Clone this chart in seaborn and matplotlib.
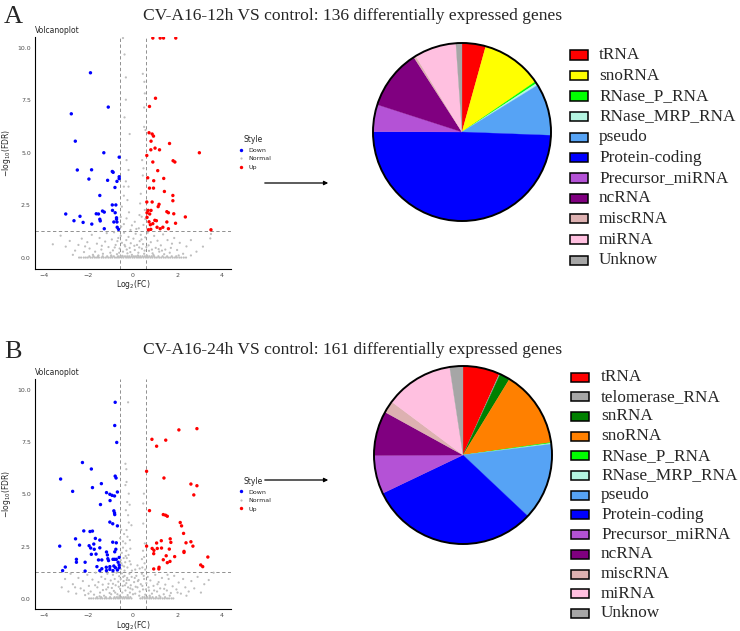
import numpy as np
import pandas as pd
import matplotlib
matplotlib.use("Agg")
import matplotlib.pyplot as plt
import seaborn as sns
from matplotlib.patches import Rectangle, Circle

# ---------------- volcano A (12h) ----------------
down_a = [(-1.91, 8.80), (-2.77, 6.85), (-1.11, 7.17), (-2.59, 5.55), (-1.31, 5.00), (-0.62, 4.79),
          (-2.50, 4.18), (-1.86, 4.19), (-1.98, 3.75), (-0.93, 4.11), (-0.89, 4.07), (-1.14, 3.69),
          (-0.72, 3.64), (-0.62, 3.86), (-0.62, 3.77), (-0.81, 3.35), (-1.49, 2.97), (-0.93, 2.52),
          (-0.77, 2.52), (-3.02, 2.09), (-2.65, 1.77), (-2.38, 1.98), (-2.24, 1.69), (-1.85, 1.61),
          (-1.65, 2.10), (-1.55, 2.09), (-1.37, 2.23), (-1.29, 2.18), (-1.49, 1.84), (-1.47, 1.76),
          (-0.92, 2.26), (-0.80, 2.15), (-0.74, 1.91), (-0.74, 1.84), (-0.86, 1.71), (-0.72, 1.71),
          (-1.29, 1.39), (-0.71, 1.46), (-0.65, 1.36)]
up_a = [(0.89, 10.45), (1.22, 10.45), (1.37, 10.45), (1.92, 10.45), (1.01, 7.59), (0.74, 7.20),
        (0.72, 5.95), (0.86, 5.89), (0.92, 5.79), (0.81, 5.55), (1.64, 5.44), (2.98, 5.00),
        (0.99, 5.22), (0.80, 5.14), (1.19, 5.14), (0.62, 4.87), (1.80, 4.62), (1.88, 4.56),
        (0.89, 4.56), (1.11, 4.15), (0.66, 3.81), (1.38, 3.78), (0.93, 3.67), (0.74, 3.32),
        (0.92, 3.32), (1.41, 3.16), (1.79, 2.97), (1.79, 2.72), (0.62, 2.66), (0.86, 2.66),
        (1.17, 2.55), (1.13, 2.44), (1.52, 2.20), (1.59, 2.15), (1.83, 2.10), (0.68, 2.26),
        (0.81, 2.26), (0.63, 2.15), (0.75, 2.09), (0.63, 1.93), (2.35, 1.95), (0.98, 1.79),
        (1.05, 1.77), (0.72, 1.72), (1.52, 1.71), (0.89, 1.63), (1.91, 1.65), (0.78, 1.58),
        (1.08, 1.46), (1.34, 1.46), (1.22, 1.39), (0.80, 1.36), (1.59, 1.39), (3.50, 1.34),
        (0.69, 1.34)]
normal_a = [(-0.38, 9.67), (-0.32, 8.58), (0.44, 8.75), (-0.32, 7.52), (0.53, 7.82), (-0.38, 6.68),
            (0.50, 7.15), (-0.15, 5.89), (0.56, 6.08), (-0.29, 4.65), (0.41, 4.65), (-0.20, 4.18),
            (0.44, 3.92), (-0.32, 3.64), (-0.20, 3.39), (0.32, 2.59), (-0.41, 2.96), (-0.50, 2.44),
            (-0.18, 2.17), (0.29, 2.04), (0.39, 1.96), (0.08, 1.72), (-0.41, 1.61), (0.47, 1.57),
            (-0.53, 1.49), (-0.11, 1.33), (0.26, 1.41), (-0.29, 1.88), (0.53, 2.28), (-0.41, 3.39),
            (0.47, 4.26), (0.50, 6.23), (0.51, 8.37), (-0.45, 10.45), (3.50, 1.14), (3.47, 0.93),
            (-0.25, 2.75), (0.35, 3.05), (-0.55, 1.95), (0.55, 1.85), (-0.05, 1.55), (0.15, 1.38),
            (-3.25, 1.06), (-3.02, 0.54), (-2.84, 0.81), (-2.60, 0.35), (-2.45, 0.62), (-2.30, 0.92),
            (-2.20, 0.28), (-2.05, 0.75), (-1.95, 0.45), (-1.85, 1.10), (-1.70, 0.30), (-1.62, 0.68),
            (-1.50, 0.95), (-1.42, 0.40), (-1.35, 0.20), (-1.25, 0.78), (-1.18, 1.18), (-1.10, 0.52),
            (-1.02, 0.25), (-0.95, 0.88), (-0.90, 0.36), (-0.85, 1.22), (-0.78, 0.62), (-0.72, 0.18),
            (-0.66, 0.95), (-0.60, 0.45), (-0.55, 1.05), (-0.50, 0.72), (-0.45, 0.30), (-0.40, 1.20),
            (-0.35, 0.55), (-0.30, 0.85), (-0.25, 0.22), (-0.20, 1.00), (-0.15, 0.48), (-0.10, 0.70),
            (-0.05, 0.15), (0.02, 0.92), (0.08, 0.38), (0.12, 1.15), (0.18, 0.62), (0.24, 0.25),
            (0.30, 0.80), (0.35, 1.10), (0.40, 0.44), (0.45, 0.66), (0.50, 0.20), (0.55, 0.98),
            (0.60, 0.52), (0.66, 1.20), (0.72, 0.34), (0.80, 0.75), (0.88, 0.22), (0.95, 1.05),
            (1.02, 0.48), (1.10, 0.82), (1.18, 0.30), (1.25, 0.60), (1.35, 1.12), (1.45, 0.40),
            (1.55, 0.85), (1.65, 0.25), (1.75, 0.68), (1.85, 0.95), (1.98, 0.38), (2.10, 0.72),
            (2.25, 0.20), (2.40, 0.55), (2.60, 0.85), (2.85, 0.30), (3.14, 0.54), (-1.80, 0.15),
            (-1.40, 0.58), (-0.98, 0.12), (-0.70, 0.80), (-0.48, 0.10), (-0.28, 0.40), (-0.12, 0.28),
            (0.06, 0.58), (0.22, 0.12), (0.38, 0.88), (0.52, 0.35), (0.70, 0.60), (0.92, 0.14),
            (1.15, 0.42), (1.40, 0.18), (1.70, 0.48), (2.05, 0.12), (-2.70, 0.15), (-2.15, 0.55),
            (-1.55, 0.12), (-0.82, 0.50), (-0.62, 0.25), (-0.38, 0.62), (0.28, 0.50), (0.62, 0.12),
            (0.85, 0.40), (1.30, 0.35), (2.60, 0.12), (-3.60, 0.65)]
# dense band of genes at FDR ~ 1
base_a_low = [-2.42, -2.33, -2.21, -2.12, -2.03, -1.91, -1.82, -1.71, -1.62, -1.53, -1.41, -1.32,
              -1.22, -1.11, -1.02, -0.93, -0.81, -0.72, -0.63, -0.52, -0.43, -0.31, -0.22, -0.13,
              -0.02, 0.07, 0.18, 0.27, 0.36, 0.47, 0.58, 0.67, 0.78, 0.87, 0.98, 1.07, 1.18, 1.27,
              1.38, 1.47, 1.58, 1.67, 1.78, 1.88, 1.97, 2.08, 2.17, 2.28, 2.38]
base_a_high = [-1.96, -1.77, -1.57, -1.36, -1.16, -0.97, -0.86, -0.67, -0.57, -0.47, -0.36, -0.26,
               -0.17, -0.06, 0.04, 0.13, 0.24, 0.33, 0.43, 0.53, 0.63, 0.73, 0.84, 0.95, 1.14,
               1.33, 1.53, 1.74, 1.94]

# ---------------- volcano B (24h) ----------------
down_b = [(-0.80, 9.40), (-0.82, 8.29), (-0.73, 7.48), (-2.27, 6.52), (-1.87, 6.21), (-0.80, 5.87),
          (-0.76, 5.78), (-3.25, 5.73), (-1.82, 5.32), (-1.42, 5.51), (-2.71, 5.14), (-1.19, 5.08),
          (-1.04, 5.00), (-0.94, 4.95), (-0.83, 4.92), (-0.70, 5.11), (-1.03, 4.70), (-1.46, 4.51),
          (-0.86, 4.21), (-0.83, 4.11), (-0.82, 4.03), (-1.04, 3.67), (-0.91, 3.59), (-0.70, 3.49),
          (-1.82, 3.24), (-2.21, 3.25), (-1.93, 3.22), (-2.58, 2.87), (-1.69, 2.89), (-1.49, 2.81),
          (-0.91, 2.71), (-0.75, 2.68), (-2.40, 2.57), (-1.97, 2.54), (-1.76, 2.62), (-3.29, 2.52),
          (-1.90, 2.43), (-1.74, 2.37), (-1.49, 2.44), (-0.77, 2.37), (-0.82, 2.25), (-1.19, 2.24),
          (-1.87, 2.13), (-1.66, 2.14), (-2.54, 1.89), (-2.54, 1.75), (-2.15, 1.75), (-1.55, 1.86),
          (-1.40, 1.86), (-1.15, 2.10), (-1.13, 1.92), (-1.10, 1.83), (-0.90, 1.89), (-0.83, 1.89),
          (-0.75, 1.89), (-0.62, 1.98), (-1.62, 1.54), (-1.40, 1.44), (-1.20, 1.51), (-1.04, 1.54),
          (-0.86, 1.57), (-0.79, 1.49), (-0.62, 1.62), (-0.62, 1.49), (-3.04, 1.52), (-3.16, 1.35),
          (-2.15, 1.33), (-1.49, 1.35), (-1.19, 1.35), (-1.04, 1.41), (-0.70, 1.38), (-0.90, 1.35),
          (-0.67, 1.75)]
up_b = [(2.06, 8.08), (2.87, 8.14), (0.85, 7.63), (1.47, 7.59), (1.06, 7.30), (0.61, 6.10),
        (1.39, 5.78), (2.60, 5.49), (2.87, 5.41), (2.73, 4.97), (0.74, 4.22), (1.36, 4.03),
        (1.46, 4.00), (1.54, 3.95), (2.12, 3.65), (2.18, 3.49), (2.27, 3.13), (1.67, 2.87),
        (2.60, 2.73), (2.38, 2.68), (1.27, 2.78), (1.70, 2.70), (1.06, 2.67), (0.61, 2.52),
        (2.69, 2.52), (0.86, 2.41), (0.94, 2.32), (1.09, 2.41), (1.28, 2.43), (1.63, 2.38),
        (2.29, 2.27), (2.29, 2.22), (0.93, 2.16), (1.49, 2.06), (1.36, 1.87), (1.54, 1.73),
        (1.66, 1.79), (1.87, 2.02), (3.36, 2.00), (3.04, 1.62), (3.13, 1.54), (0.93, 1.43),
        (1.16, 1.43), (1.17, 1.51)]
normal_b = [(-0.22, 9.40), (-0.34, 6.46), (-0.30, 6.20), (-0.29, 5.59), (-0.34, 5.44), (-0.19, 5.03),
            (-0.26, 4.63), (-0.15, 4.50), (-0.32, 4.24), (-0.22, 4.00), (-0.19, 3.65), (-0.07, 3.52),
            (-0.29, 3.29), (-0.40, 3.10), (-0.25, 2.97), (-0.14, 2.81), (-0.34, 2.65), (0.46, 4.56),
            (0.49, 5.03), (0.46, 3.60), (0.53, 2.65), (0.45, 2.30), (0.40, 1.90), (0.52, 1.70),
            (0.30, 1.45), (0.55, 1.40), (0.50, 2.00), (0.20, 1.60), (-0.45, 2.45), (-0.30, 2.30),
            (-0.50, 2.20), (-0.20, 2.10), (-0.42, 1.95), (-0.55, 1.85), (-0.35, 1.75), (-0.10, 1.65),
            (-0.48, 1.60), (-0.25, 1.50), (-0.55, 1.42), (-0.38, 1.35), (-0.05, 1.35), (-0.58, 2.90),
            (-0.53, 3.30), (-0.45, 2.75), (-0.12, 2.40), (-0.28, 1.95), (-0.40, 1.55), (-0.15, 1.80),
            (-0.52, 1.70), (-0.33, 2.05), (0.10, 1.40), (0.42, 1.50),
            (-3.20, 0.55), (-3.05, 0.95), (-2.90, 0.35), (-2.80, 1.20), (-2.70, 0.70), (-2.55, 0.25),
            (-2.45, 1.00), (-2.35, 0.50), (-2.25, 0.85), (-2.15, 0.18), (-2.05, 1.15), (-1.98, 0.62),
            (-1.90, 0.35), (-1.82, 0.92), (-1.75, 0.20), (-1.68, 1.25), (-1.60, 0.55), (-1.55, 0.80),
            (-1.48, 0.30), (-1.42, 1.05), (-1.36, 0.68), (-1.30, 0.15), (-1.25, 0.95), (-1.20, 0.45),
            (-1.15, 1.20), (-1.10, 0.72), (-1.05, 0.28), (-1.00, 0.88), (-0.95, 0.52), (-0.90, 1.15),
            (-0.86, 0.38), (-0.82, 0.95), (-0.78, 0.65), (-0.74, 1.25), (-0.70, 0.22), (-0.66, 0.82),
            (-0.62, 1.08), (-0.58, 0.48), (-0.55, 0.95), (-0.50, 1.22), (-0.46, 0.62), (-0.42, 0.85),
            (-0.38, 1.10), (-0.34, 0.40), (-0.30, 0.75), (-0.26, 1.00), (-0.22, 0.55), (-0.18, 0.90),
            (-0.14, 0.30), (-0.10, 0.65), (-0.06, 1.05), (-0.02, 0.45), (0.05, 0.80), (0.10, 0.25),
            (0.15, 1.10), (0.20, 0.55), (0.25, 0.90), (0.30, 0.35), (0.35, 0.70), (0.40, 1.20),
            (0.45, 0.45), (0.50, 0.95), (0.55, 0.20), (0.60, 0.75), (0.66, 1.05), (0.72, 0.40),
            (0.78, 0.88), (0.85, 0.25), (0.92, 0.62), (1.00, 1.15), (1.08, 0.35), (1.15, 0.80),
            (1.22, 0.50), (1.30, 1.00), (1.38, 0.22), (1.45, 0.68), (1.52, 0.40), (1.60, 0.95),
            (1.70, 0.28), (1.78, 0.60), (1.85, 1.10), (1.95, 0.45), (2.05, 0.78), (2.15, 0.25),
            (2.25, 0.95), (2.35, 0.55), (2.50, 0.35), (2.62, 0.85), (2.75, 0.50), (2.90, 1.05),
            (3.05, 0.30), (3.20, 0.70), (3.40, 0.90), (3.62, 1.25), (-2.60, 0.55), (-2.20, 0.40),
            (-1.70, 0.65), (-1.35, 0.42), (-0.98, 0.22), (-0.80, 0.30), (-0.64, 0.58), (-0.48, 0.30),
            (-0.36, 0.65), (-0.24, 0.18), (-0.12, 0.50), (0.00, 0.22), (0.12, 0.58), (0.28, 0.15),
            (0.42, 0.62), (0.58, 0.45), (0.75, 0.15), (0.95, 0.40), (1.18, 0.15), (1.40, 0.48),
            (1.65, 0.15), (2.00, 0.30), (-2.00, 0.25), (-1.50, 0.12), (-1.12, 0.55), (-0.90, 0.72),
            (-0.60, 0.15), (-0.44, 1.05), (-0.28, 0.90), (-0.16, 1.20), (0.08, 1.00), (0.22, 0.85),
            (0.48, 1.10), (0.70, 0.55), (1.10, 0.70), (1.55, 1.15), (2.40, 0.15)]
base_b_low = [-1.97, -1.88, -1.78, -1.67, -1.58, -1.47, -1.38, -1.27, -1.18, -1.07, -0.98, -0.87,
              -0.78, -0.67, -0.58, -0.47, -0.38, -0.27, -0.18, -0.07, 0.33, 0.42, 0.53, 0.62, 0.73,
              0.82, 0.93, 1.02, 1.13, 1.22, 1.33, 1.42, 1.53, 1.62, 1.73, 1.81]
base_b_high = [-1.62, -1.43, -1.22, -1.03, -0.83, -0.72, -0.62, -0.52, -0.42, -0.32, -0.22, -0.12,
               0.43, 0.52, 0.64, 0.76, 0.88, 1.04, 1.23, 1.44]

# ---------------- pies ----------------
pie_labels_a = ["tRNA", "snoRNA", "RNase_P_RNA", "RNase_MRP_RNA", "pseudo", "Protein-coding",
                "Precursor_miRNA", "ncRNA", "miscRNA", "miRNA", "Unknow"]
pie_values_a = [4.3, 11.1, 0.35, 0.4, 9.4, 49.4, 4.9, 10.9, 0.4, 7.6, 1.1]
pie_colors_a = ["#FF0000", "#FFFF00", "#00FF00", "#B4F5E1", "#56A3F5", "#0000FF",
                "#B452D6", "#800080", "#DDB1B1", "#FFC0E0", "#A6A6A6"]

pie_labels_b = ["tRNA", "telomerase_RNA", "snRNA", "snoRNA", "RNase_P_RNA", "RNase_MRP_RNA",
                "pseudo", "Protein-coding", "Precursor_miRNA", "ncRNA", "miscRNA", "miRNA", "Unknow"]
pie_values_b = [6.7, 0.15, 1.9, 14.0, 0.15, 0.15, 14.0, 30.9, 7.0, 8.1, 2.2, 12.4, 2.4]
pie_colors_b = ["#FF0000", "#A6A6A6", "#008000", "#FF8000", "#00FF00", "#B4F5E1", "#56A3F5",
                "#0000FF", "#B452D6", "#800080", "#DDB1B1", "#FFC0E0", "#A6A6A6"]

style_colors = {"Down": "#0000FF", "Normal": "#BEBEBE", "Up": "#FF0000"}
style_sizes = {"Down": 6, "Normal": 2.5, "Up": 6}

W, H = 740, 631
SERIF = "Liberation Serif"


def fx(px):
    return px / W


def fy(py):
    return 1 - py / H


def volcano_frame(down, normal, up, base_low, base_high):
    rows = [(x, y, "Normal") for x, y in normal]
    rows += [(x, 0.02, "Normal") for x in base_low]
    rows += [(x, 0.08, "Normal") for x in base_high]
    rows += [(x, y, "Down") for x, y in down]
    rows += [(x, y, "Up") for x, y in up]
    return pd.DataFrame(rows, columns=["log2FC", "logFDR", "Style"])


def draw_volcano(fig, rect, df):
    ax = fig.add_axes(rect)
    sns.scatterplot(data=df, x="log2FC", y="logFDR", hue="Style", size="Style",
                    hue_order=["Down", "Normal", "Up"], size_order=["Down", "Normal", "Up"],
                    palette=style_colors, sizes=style_sizes, linewidth=0, ax=ax)
    ax.axvline(-0.585, color="#7F7F7F", lw=0.6, ls=(0, (4, 3)), zorder=0)
    ax.axvline(0.585, color="#7F7F7F", lw=0.6, ls=(0, (4, 3)), zorder=0)
    ax.axhline(1.301, color="#7F7F7F", lw=0.6, ls=(0, (4, 3)), zorder=0)
    ax.set_xlim(-4.4, 4.4)
    ax.set_ylim(-0.5, 10.5)
    ax.set_xticks([-4, -2, 0, 2, 4])
    ax.set_yticks([0, 2.5, 5, 7.5, 10])
    ax.set_yticklabels(["0.0", "2.5", "5.0", "7.5", "10.0"])
    ax.tick_params(labelsize=4.5, colors="#4D4D4D", length=2, width=0.5, pad=1)
    ax.set_xlabel("Log$_2$(FC)", fontsize=5.5, labelpad=0.5)
    ax.set_ylabel("$-$log$_{10}$(FDR)", fontsize=5.5, labelpad=3)
    ax.set_title("Volcanoplot", loc="left", fontsize=5.5, pad=3)
    for side in ["top", "right"]:
        ax.spines[side].set_visible(False)
    for side in ["left", "bottom"]:
        ax.spines[side].set_linewidth(0.8)
        ax.spines[side].set_color("black")
    sns.move_legend(ax, "center left", bbox_to_anchor=(0.99, 0.5), frameon=False,
                    fontsize=4.5, title_fontsize=5.5, handletextpad=0.2, labelspacing=0.5)
    return ax


def draw_pie(fig, rect, values, colors):
    ax = fig.add_axes(rect)
    wedges, _ = ax.pie(values, colors=colors, startangle=90, counterclock=False, radius=1)
    for w in wedges:
        w.set_edgecolor(w.get_facecolor())
        w.set_linewidth(0.2)
    ax.add_patch(Circle((0, 0), 1, fill=False, ec="black", lw=1.4, clip_on=False))
    ax.set_xlim(-1, 1)
    ax.set_ylim(-1, 1)
    ax.set_aspect("equal")
    ax.axis("off")
    return ax


def draw_key(fig, labels, colors, box_x, text_x, y0, step):
    for i, (lab, col) in enumerate(zip(labels, colors)):
        y = y0 + i * step
        fig.add_artist(Rectangle((fx(box_x), fy(y + 4.5)), 18 / W, 9 / H, transform=fig.transFigure,
                                 fc=col, ec="black", lw=1.1))
        fig.text(fx(text_x), fy(y), lab, va="center", ha="left", fontsize=12.4, family=SERIF)


sns.set_theme(style="white")
plt.rcParams["font.family"] = ["DejaVu Sans"]

fig = plt.figure(figsize=(W / 100, H / 100), dpi=100)

df_a = volcano_frame(down_a, normal_a, up_a, base_a_low, base_a_high)
df_b = volcano_frame(down_b, normal_b, up_b, base_b_low, base_b_high)
ax_a = draw_volcano(fig, [fx(35), fy(268.5), 196 / W, 231.5 / H], df_a)
ax_b = draw_volcano(fig, [fx(35), fy(609.3), 196 / W, 230 / H], df_b)

draw_pie(fig, [fx(373), fy(221), 178 / W, 178 / H], pie_values_a, pie_colors_a)
draw_pie(fig, [fx(374), fy(544), 178 / W, 178 / H], pie_values_b, pie_colors_b)

draw_key(fig, pie_labels_a, pie_colors_a, 570, 599, 55, 20.5)
draw_key(fig, pie_labels_b, pie_colors_b, 571, 601, 377, 19.7)

for y_arrow in [183, 480]:
    ax_a.annotate("", xy=(fx(331), fy(y_arrow)), xytext=(fx(262), fy(y_arrow)),
                  xycoords="figure fraction", textcoords="figure fraction", annotation_clip=False,
                  arrowprops=dict(arrowstyle="-|>", color="black", lw=0.9, mutation_scale=6))

fig.text(fx(353), fy(16), "CV-A16-12h VS control: 136 differentially expressed genes",
         ha="center", va="center", fontsize=12.6, family=SERIF)
fig.text(fx(353), fy(350), "CV-A16-24h VS control: 161 differentially expressed genes",
         ha="center", va="center", fontsize=12.6, family=SERIF)
fig.text(fx(4), fy(17), "A", ha="left", va="center", fontsize=19, family=SERIF)
fig.text(fx(4), fy(352), "B", ha="left", va="center", fontsize=19, family=SERIF)

fig.savefig("out.png", dpi=100)
